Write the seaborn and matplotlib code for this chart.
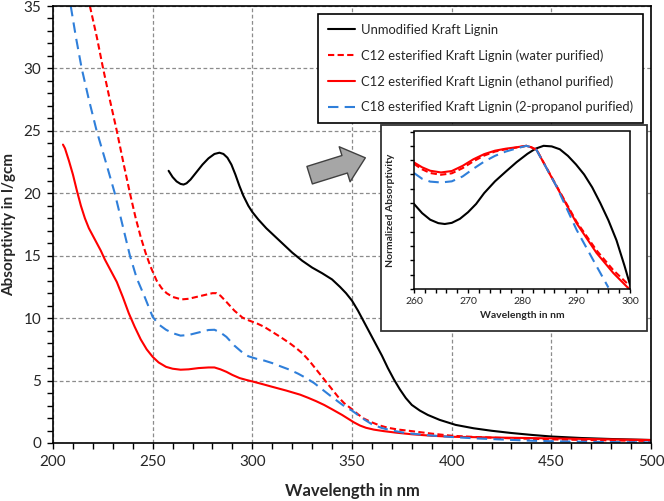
import numpy as np
import pandas as pd
import matplotlib
matplotlib.use("Agg")
import matplotlib.pyplot as plt
from matplotlib.patches import Rectangle, FancyArrowPatch
from matplotlib.ticker import MultipleLocator, NullFormatter
import seaborn as sns

# ---------------- data (main chart) ----------------
wl_unmod = [258, 260, 262, 264, 265.5, 267, 269, 272, 275, 278, 281, 283.5, 285.5, 287.5, 289.5,
            291.5, 293.5, 295.5, 298, 300, 303, 307, 311, 315, 320, 325, 330, 335, 340, 344, 347,
            350, 353, 356, 359, 362, 365, 368, 371, 374, 377, 380, 384, 388, 394, 402, 411, 420,
            430, 440, 450, 465, 480, 500]
abs_unmod = [21.8, 21.3, 20.95, 20.75, 20.7, 20.8, 21.1, 21.7, 22.3, 22.8, 23.15, 23.25, 23.15,
             22.85, 22.3, 21.5, 20.6, 19.8, 19.0, 18.5, 17.9, 17.2, 16.6, 16.0, 15.25, 14.6, 14.05,
             13.6, 13.1, 12.5, 12.0, 11.4, 10.6, 9.7, 8.8, 7.9, 7.0, 6.0, 5.1, 4.3, 3.6, 3.05, 2.6,
             2.25, 1.85, 1.45, 1.18, 0.98, 0.80, 0.65, 0.52, 0.40, 0.32, 0.24]

wl_c12w = [218.5, 222, 225, 228.5, 232, 235.5, 238.6, 241.5, 244, 246.5, 249, 252, 254.5, 257,
           260, 264.5, 268, 272, 276, 280, 282, 284, 287, 291, 295, 298.5, 302, 306, 310, 314,
           318.7, 322, 325, 328.5, 332, 336, 340, 343, 346, 350, 353, 356, 360, 364, 368, 373,
           380, 390, 400, 412, 425, 450, 475, 500]
abs_c12w = [35.0, 32.5, 30.1, 27.5, 25.0, 22.3, 20.0, 18.0, 16.5, 15.2, 14.1, 13.0, 12.4, 12.0,
            11.7, 11.5, 11.55, 11.7, 11.85, 12.0, 12.0, 11.8, 11.3, 10.6, 10.05, 9.8, 9.6, 9.3,
            8.9, 8.5, 8.0, 7.6, 7.2, 6.6, 5.9, 5.1, 4.3, 3.7, 3.2, 2.7, 2.3, 1.95, 1.65, 1.4,
            1.22, 1.08, 0.95, 0.75, 0.58, 0.48, 0.40, 0.29, 0.22, 0.16]

wl_c12e = [205, 206, 208, 210, 212, 214, 216, 218, 220, 222, 224, 226, 229, 232, 235, 238, 241,
           244, 247, 250, 253, 256.7, 260, 264, 268, 273, 278, 281, 284, 287, 290, 293.6, 297,
           300, 305, 310, 317, 324, 328, 332, 336, 340, 345, 348, 351, 354, 357, 361, 366, 372,
           380, 390, 400, 425, 450, 475, 500]
abs_c12e = [23.9, 23.6, 22.6, 21.5, 20.2, 19.0, 18.0, 17.2, 16.6, 16.0, 15.4, 14.7, 13.8, 12.9,
            11.7, 10.4, 9.3, 8.3, 7.5, 6.9, 6.45, 6.1, 5.95, 5.87, 5.9, 6.0, 6.05, 6.05, 5.9,
            5.7, 5.45, 5.2, 5.05, 4.93, 4.72, 4.5, 4.2, 3.87, 3.62, 3.35, 3.05, 2.7, 2.25, 1.95,
            1.65, 1.4, 1.22, 1.07, 0.95, 0.83, 0.70, 0.58, 0.50, 0.43, 0.37, 0.30, 0.24]

wl_c18 = [208.9, 211.5, 214.4, 218, 221.9, 226.5, 231, 234.8, 238.6, 242, 246, 250, 253, 256.7,
          260, 264, 268, 273, 278, 281, 284, 287, 291, 295, 298, 302, 306, 310, 314, 318.7, 323,
          327, 331, 335, 339, 344, 347, 350, 355, 360, 365, 370, 377, 388, 400, 412, 425, 437,
          450, 475, 500]
abs_c18 = [35.0, 32.5, 30.0, 27.5, 25.0, 22.5, 20.0, 17.5, 15.0, 13.2, 11.7, 10.1, 9.5, 9.07,
           8.8, 8.6, 8.65, 8.85, 9.05, 9.07, 8.85, 8.5, 7.8, 7.25, 6.95, 6.75, 6.6, 6.4, 6.15,
           5.87, 5.55, 5.2, 4.8, 4.3, 3.8, 3.2, 2.85, 2.6, 2.0, 1.5, 1.2, 1.0, 0.8, 0.62, 0.48,
           0.37, 0.28, 0.20, 0.14, 0.08, 0.05]

# ---------------- data (inset, normalized) ----------------
in_wl_unmod = [260, 261.5, 263, 264.5, 265.7, 267, 268.5, 270, 271.5, 273, 275, 277, 279, 281,
               282.5, 284, 285.5, 287, 288.5, 290, 291.5, 293, 294.5, 296, 297.5, 299, 300]
in_n_unmod = [0.797, 0.765, 0.742, 0.730, 0.727, 0.731, 0.745, 0.768, 0.797, 0.835, 0.876,
              0.910, 0.943, 0.972, 0.990, 1.0, 0.998, 0.988, 0.965, 0.935, 0.900, 0.855, 0.800,
              0.740, 0.670, 0.580, 0.515]

in_wl_c12e = [260, 261.5, 263, 265, 267, 269, 271, 273, 275, 277, 279, 280.8, 281.7, 282.7,
              286.4, 290.1, 293.8, 296.9, 300]
in_n_c12e = [0.942, 0.925, 0.913, 0.907, 0.912, 0.930, 0.953, 0.971, 0.983, 0.990, 0.995, 1.0,
             0.995, 0.986, 0.858, 0.730, 0.626, 0.556, 0.497]

in_wl_c12w = [260, 261.5, 263, 265, 267, 269, 271, 273, 275, 277, 279, 280.8, 281.7, 282.7,
              286.4, 290.1, 293.8, 296.9, 300]
in_n_c12w = [0.937, 0.918, 0.905, 0.899, 0.904, 0.922, 0.946, 0.966, 0.980, 0.988, 0.994, 1.0,
             0.995, 0.986, 0.860, 0.735, 0.635, 0.566, 0.510]

in_wl_c18 = [260, 261.5, 263, 265, 267, 269, 271, 273, 275, 277, 279, 280.8, 281.7, 282.7,
             286.4, 290.1, 293.8, 296]
in_n_c18 = [0.905, 0.885, 0.875, 0.872, 0.876, 0.893, 0.920, 0.945, 0.965, 0.980, 0.991, 1.0,
            0.995, 0.985, 0.858, 0.707, 0.580, 0.505]

labels = ["Unmodified Kraft Lignin",
          "C12 esterified Kraft Lignin (water purified)",
          "C12 esterified Kraft Lignin (ethanol purified)",
          "C18 esterified Kraft Lignin (2-propanol purified)"]

RED = "#FF0000"
BLUE = "#2F7FDA"
styles = [
    dict(color="black", linestyle="-"),
    dict(color=RED, linestyle=(0, (3, 1.6))),
    dict(color=RED, linestyle="-"),
    dict(color=BLUE, linestyle=(0, (5, 3))),
]

sns.set_theme(style="white")
plt.rcParams["font.family"] = ["Lato", "DejaVu Sans"]
plt.rcParams["axes.edgecolor"] = "black"

fig = plt.figure(figsize=(6.64, 5.01), dpi=100)
ax = fig.add_axes([53/664, 1-443/501, 598/664, 437/501])

main_series = [(wl_unmod, abs_unmod), (wl_c12w, abs_c12w), (wl_c12e, abs_c12e), (wl_c18, abs_c18)]
for (x, y), lab, st in zip(main_series, labels, styles):
    df = pd.DataFrame({"wl": x, "a": y})
    sns.lineplot(data=df, x="wl", y="a", ax=ax, label=lab, color=st["color"],
                 linestyle=st["linestyle"], linewidth=1.5, sort=False, estimator=None)

ax.set_xlim(200, 500)
ax.set_ylim(0, 35)
ax.xaxis.set_major_locator(MultipleLocator(50))
ax.xaxis.set_minor_locator(MultipleLocator(10))
ax.yaxis.set_major_locator(MultipleLocator(5))
ax.yaxis.set_minor_locator(MultipleLocator(1))
ax.tick_params(which="both", direction="out", length=4.5, width=1, color="black",
               bottom=True, left=True, labelsize=11, pad=4)
ax.grid(True, which="major", color="#8c8c8c", linestyle=(0, (3, 2)), linewidth=0.9)
for s in ax.spines.values():
    s.set_linewidth(1.2)
    s.set_color("black")
ax.set_xlabel("Wavelength in nm", fontsize=12, fontweight="bold", labelpad=10)
ax.set_ylabel("Absorptivity in l/gcm", fontsize=11, fontweight="bold", labelpad=5)

leg = ax.legend(loc="upper right", bbox_to_anchor=((643-53)/598, (443-14)/437),
                frameon=True, fancybox=False, fontsize=9.4, handlelength=2.1,
                handletextpad=0.45, labelspacing=1.02, borderpad=0.75, borderaxespad=0)
leg.get_frame().set_edgecolor("black")
leg.get_frame().set_linewidth(1.2)
leg.get_frame().set_alpha(1)

# inset outer frame
fig.patches.append(Rectangle((381/664, 1-331/501), 266/664, 206/501, transform=fig.transFigure,
                             facecolor="white", edgecolor="#333333", linewidth=1.3, zorder=5))

# arrow
arrow = FancyArrowPatch(((307-53)/598, (443-176)/437), ((368-53)/598, (443-157)/437),
                        transform=ax.transAxes,
                        arrowstyle="simple,head_width=2.2,head_length=1.3,tail_width=1.1",
                        mutation_scale=12, facecolor="#a6a6a6", edgecolor="#404040",
                        linewidth=1.0, zorder=6)
ax.add_patch(arrow)

ins = fig.add_axes([414/664, 1-289/501, 216/664, 157.5/501], zorder=10)
ins.set_facecolor("white")
inset_series = [(in_wl_unmod, in_n_unmod), (in_wl_c12w, in_n_c12w), (in_wl_c12e, in_n_c12e), (in_wl_c18, in_n_c18)]
for (x, y), st in zip(inset_series, styles):
    df = pd.DataFrame({"wl": x, "a": y})
    sns.lineplot(data=df, x="wl", y="a", ax=ins, color=st["color"], linestyle=st["linestyle"],
                 linewidth=1.5, sort=False, estimator=None, legend=False)
ins.set_xlim(260, 300)
ins.set_ylim(0.5, 1.05)
ins.xaxis.set_major_locator(MultipleLocator(10))
ins.xaxis.set_minor_locator(MultipleLocator(2))
ins.yaxis.set_major_locator(MultipleLocator(0.05))
ins.yaxis.set_major_formatter(NullFormatter())
ins.tick_params(which="both", direction="out", length=3, width=1, color="black",
                bottom=True, left=True, labelsize=7.5, pad=3)
for s in ins.spines.values():
    s.set_linewidth(1.1)
    s.set_color("black")
ins.set_xlabel("Wavelength in nm", fontsize=7.5, fontweight="bold", labelpad=3)
ins.set_ylabel("Normalized Absorptivity", fontsize=7.5, fontweight="bold", labelpad=8)

fig.savefig("out.png", dpi=100)
